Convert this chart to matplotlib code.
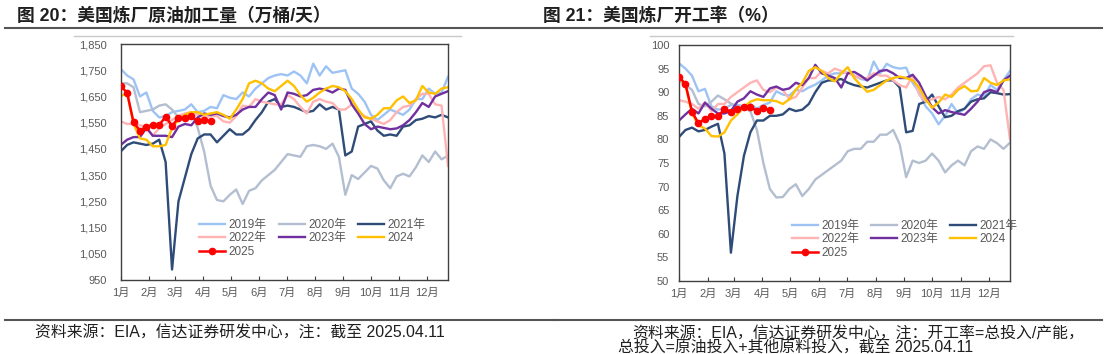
import matplotlib.pyplot as plt
from matplotlib.lines import Line2D

plt.rcParams['font.family'] = ['Liberation Sans', 'Noto Sans CJK SC']

W, H = 1108, 354

months = ['1月', '2月', '3月', '4月', '5月', '6月', '7月', '8月', '9月', '10月', '11月', '12月']
month_days = [0, 31, 59, 90, 120, 151, 181, 212, 243, 273, 304, 334]

labels = ['2019年', '2020年', '2021年', '2022年', '2023年', '2024', '2025']
colors = ['#9DC3F5', '#B3BED0', '#2F4B78', '#FFB3B3', '#7030A0', '#FFC000', '#FF0000']

# 美国炼厂原油加工量（万桶/天），周度
runs_2019 = [1755, 1730, 1715, 1650, 1665, 1595, 1570, 1575, 1590, 1595, 1600, 1620, 1590,
             1595, 1610, 1605, 1655, 1645, 1640, 1665, 1650, 1680, 1700, 1720, 1730, 1735,
             1730, 1745, 1730, 1700, 1775, 1730, 1765, 1740, 1745, 1750, 1680, 1660, 1630,
             1580, 1560, 1580, 1600, 1590, 1580, 1600, 1640, 1640, 1680, 1660, 1665, 1725]
runs_2020 = [1700, 1700, 1685, 1590, 1595, 1600, 1615, 1620, 1600, 1570, 1560, 1590, 1530,
             1440, 1310, 1255, 1250, 1275, 1295, 1240, 1290, 1300, 1330, 1350, 1370, 1400,
             1430, 1425, 1420, 1460, 1465, 1460, 1450, 1470, 1420, 1275, 1350, 1335, 1360,
             1385, 1375, 1330, 1300, 1345, 1355, 1345, 1380, 1425, 1400, 1440, 1410, 1425]
runs_2021 = [1440, 1465, 1475, 1470, 1465, 1470, 1485, 1400, 990, 1250, 1340, 1430, 1490,
             1505, 1505, 1475, 1500, 1525, 1505, 1505, 1525, 1560, 1590, 1630, 1640, 1610,
             1615, 1610, 1600, 1590, 1595, 1620, 1600, 1610, 1600, 1425, 1440, 1535, 1545,
             1555, 1520, 1500, 1505, 1500, 1535, 1540, 1560, 1565, 1575, 1570, 1580, 1570]
runs_2022 = [1555, 1545, 1545, 1540, 1535, 1500, 1530, 1545, 1560, 1575, 1585, 1590, 1580,
             1570, 1575, 1575, 1555, 1550, 1575, 1615, 1610, 1640, 1630, 1625, 1620, 1620,
             1655, 1640, 1610, 1585, 1630, 1640, 1630, 1625, 1600, 1600, 1620, 1590, 1575,
             1565, 1555, 1545, 1560, 1590, 1610, 1615, 1640, 1660, 1660, 1620, 1615, 1385]
runs_2023 = [1465, 1485, 1495, 1495, 1530, 1500, 1500, 1500, 1495, 1535, 1545, 1540, 1570,
             1585, 1580, 1585, 1575, 1570, 1580, 1600, 1610, 1610, 1640, 1665, 1655, 1600,
             1665, 1660, 1650, 1655, 1675, 1680, 1675, 1665, 1680, 1675, 1620, 1585, 1545,
             1525, 1535, 1530, 1525, 1528, 1540, 1560, 1590, 1625, 1610, 1650, 1660, 1670]
runs_2024 = [1650, 1665, 1545, 1490, 1485, 1460, 1460, 1465, 1530, 1560, 1580, 1590, 1590,
             1580, 1585, 1590, 1580, 1565, 1600, 1640, 1700, 1710, 1700, 1680, 1670, 1690,
             1710, 1690, 1655, 1630, 1645, 1665, 1680, 1690, 1685, 1670, 1640, 1600, 1570,
             1565, 1580, 1605, 1605, 1635, 1650, 1625, 1635, 1690, 1665, 1660, 1680, 1685]
runs_2025 = [1690, 1664, 1551, 1520, 1535, 1541, 1541, 1573, 1537, 1569, 1567, 1575, 1556,
             1560, 1555]

# 美国炼厂开工率（%），周度
util_2019 = [96.1, 95.0, 93.5, 90.2, 90.7, 87.0, 86.3, 86.5, 87.3, 87.3, 87.0, 87.5, 86.5,
             87.3, 87.8, 90.2, 89.5, 89.3, 90.5, 90.2, 91.0, 91.6, 92.5, 93.5, 94.0, 94.0,
             94.2, 93.5, 92.8, 92.5, 96.5, 94.0, 96.0, 95.3, 95.0, 95.2, 92.0, 90.0, 87.0,
             85.5, 83.2, 85.0, 87.5, 85.5, 86.5, 88.5, 89.5, 89.2, 91.5, 90.5, 92.5, 94.5]
util_2020 = [92.5, 91.5, 90.5, 87.5, 87.0, 88.0, 89.3, 88.5, 87.6, 87.0, 86.5, 86.0, 82.0,
             75.0, 69.5, 67.7, 67.8, 69.5, 70.5, 68.0, 69.5, 71.5, 72.5, 73.5, 74.5, 75.5,
             77.5, 78.0, 78.0, 79.5, 79.5, 81.0, 81.0, 82.0, 79.0, 72.0, 75.5, 75.0, 75.5,
             77.0, 75.5, 73.0, 74.5, 75.5, 74.5, 77.5, 78.5, 78.0, 80.0, 79.2, 78.0, 79.3]
util_2021 = [80.5, 82.0, 82.5, 81.7, 82.0, 82.7, 83.3, 77.0, 56.0, 68.0, 76.5, 81.5, 84.0,
             84.0, 85.0, 85.0, 85.3, 86.5, 86.0, 86.3, 87.5, 90.0, 92.0, 92.5, 92.5, 92.8,
             92.0, 91.5, 91.2, 91.0, 91.5, 92.0, 92.5, 92.5, 91.0, 81.5, 81.8, 87.5, 88.0,
             89.5, 87.0, 84.7, 85.0, 86.0, 86.5, 88.0, 88.5, 88.7, 90.0, 89.8, 89.5, 89.6]
util_2022 = [88.3, 88.0, 87.5, 86.5, 87.8, 86.0, 87.5, 87.5, 89.0, 90.0, 91.0, 92.0, 92.5,
             90.5, 90.0, 91.0, 90.5, 88.5, 89.0, 91.0, 93.0, 93.0, 94.5, 94.0, 95.0, 94.5,
             94.0, 93.5, 93.0, 93.0, 94.0, 93.5, 93.5, 92.5, 91.5, 91.0, 93.5, 89.5, 88.0,
             88.5, 89.0, 88.5, 89.5, 91.0, 92.0, 93.0, 94.0, 95.5, 95.7, 92.0, 90.5, 80.0]
util_2023 = [84.0, 85.3, 86.5, 85.5, 87.8, 86.5, 85.5, 85.5, 86.0, 88.0, 88.7, 90.2, 89.5,
             89.0, 90.8, 91.2, 90.5, 90.8, 92.0, 91.5, 93.0, 95.8, 94.0, 93.5, 93.0, 91.0,
             94.0, 94.3, 93.5, 92.5, 93.5, 94.5, 94.7, 94.0, 93.0, 93.0, 93.7, 92.0, 89.2,
             86.8, 85.5, 86.2, 85.8, 85.5, 85.2, 86.5, 88.0, 90.0, 90.5, 90.0, 92.5, 93.5]
util_2024 = [93.0, 91.5, 85.5, 83.0, 82.3, 80.7, 80.6, 81.5, 84.0, 85.3, 86.8, 88.0, 88.5,
             88.3, 88.3, 88.1, 87.5, 88.5, 90.5, 92.0, 94.5, 95.3, 94.5, 93.0, 92.3, 94.0,
             95.3, 93.0, 91.5, 90.1, 90.5, 91.5, 92.5, 93.0, 93.3, 93.0, 92.5, 91.0, 88.5,
             86.7, 87.8, 89.5, 89.0, 90.5, 91.3, 90.2, 90.3, 93.0, 92.0, 91.5, 92.5, 92.7]
util_2025 = [93.3, 91.7, 85.9, 83.4, 84.4, 84.9, 84.9, 86.4, 85.9, 86.4, 86.8, 86.9, 86.0,
             86.7, 86.2]

runs = [runs_2019, runs_2020, runs_2021, runs_2022, runs_2023, runs_2024, runs_2025]
util = [util_2019, util_2020, util_2021, util_2022, util_2023, util_2024, util_2025]

fig = plt.figure(figsize=(W / 100, H / 100), dpi=100)


def draw_panel(ax, series, ylim, yticks, fmt, ypad, legend_x):
    for vals, lab, col in zip(series, labels, colors):
        x = [7 * i for i in range(len(vals))]
        if lab == '2025':
            ax.plot(x, vals, color=col, lw=1.8, marker='o', ms=4.5, label=lab, zorder=5)
        else:
            ax.plot(x, vals, color=col, lw=1.7, label=lab)
    ax.set_xlim(0, 357)
    ax.set_ylim(*ylim)
    ax.set_yticks(yticks)
    ax.set_yticklabels([fmt(v) for v in yticks])
    ax.set_xticks(month_days)
    ax.set_xticklabels(months)
    ax.tick_params(axis='x', direction='in', length=3, width=0.8, color='#404040',
                   labelsize=8, labelcolor='#595959', pad=6)
    ax.tick_params(axis='y', length=0, labelsize=8, labelcolor='#595959', pad=ypad)
    for s in ax.spines.values():
        s.set_color('#404040')
        s.set_linewidth(1.0)
    h, l = ax.get_legend_handles_labels()
    order = [0, 3, 6, 1, 4, 2, 5]
    ax.legend([h[i] for i in order], [l[i] for i in order], ncol=3, frameon=False,
              loc='upper left', bbox_to_anchor=(legend_x, 0.26), fontsize=8.5,
              labelcolor='#595959', handlelength=2.2, handletextpad=0.3,
              columnspacing=1.0, labelspacing=0.15, borderaxespad=0, borderpad=0)


ax1 = fig.add_axes([120.7 / W, 1 - 280 / H, 327.3 / W, 236 / H])
draw_panel(ax1, runs, (950, 1850), list(range(950, 1851, 100)),
           lambda v: f'{v:,}', 10, 0.24)

ax2 = fig.add_axes([679 / W, 1 - 281 / H, 331 / W, 236 / H])
draw_panel(ax2, util, (50, 100), list(range(50, 101, 5)),
           lambda v: f'{v}', 7, 0.34)


def hline(x0, x1, y, color, lw):
    fig.add_artist(Line2D([x0 / W, x1 / W], [1 - y / H, 1 - y / H], color=color, lw=lw))


# 标题与分隔线
fig.text(17 / W, 1 - 16 / H, '图 20：美国炼厂原油加工量（万桶/天）', fontsize=12.8,
         fontweight='bold', color='#1F1F1F', va='center', ha='left')
fig.text(543 / W, 1 - 16 / H, '图 21：美国炼厂开工率（%）', fontsize=12.8,
         fontweight='bold', color='#1F1F1F', va='center', ha='left')
hline(5, 554, 27.5, '#555555', 1.5)
hline(554, 1102, 27.5, '#555555', 1.5)
hline(74, 461, 36, '#C8C8C8', 1.0)
hline(650, 1013, 36, '#C8C8C8', 1.0)
hline(5, 554, 320, '#555555', 1.5)
hline(554, 1102, 320, '#555555', 1.5)

# 资料来源
fig.text(35 / W, 1 - 333.5 / H, '资料来源：EIA，信达证券研发中心，注：截至 2025.04.11',
         fontsize=11.4, color='#1F1F1F', va='center', ha='left')
fig.text(632 / W, 1 - 333.5 / H, '资料来源：EIA，信达证券研发中心，注：开工率=总投入/产能，',
         fontsize=11.4, color='#1F1F1F', va='center', ha='left')
fig.text(618 / W, 1 - 347.5 / H, '总投入=原油投入+其他原料投入，截至 2025.04.11',
         fontsize=11.4, color='#1F1F1F', va='center', ha='left')

fig.savefig('out.png', dpi=100)
